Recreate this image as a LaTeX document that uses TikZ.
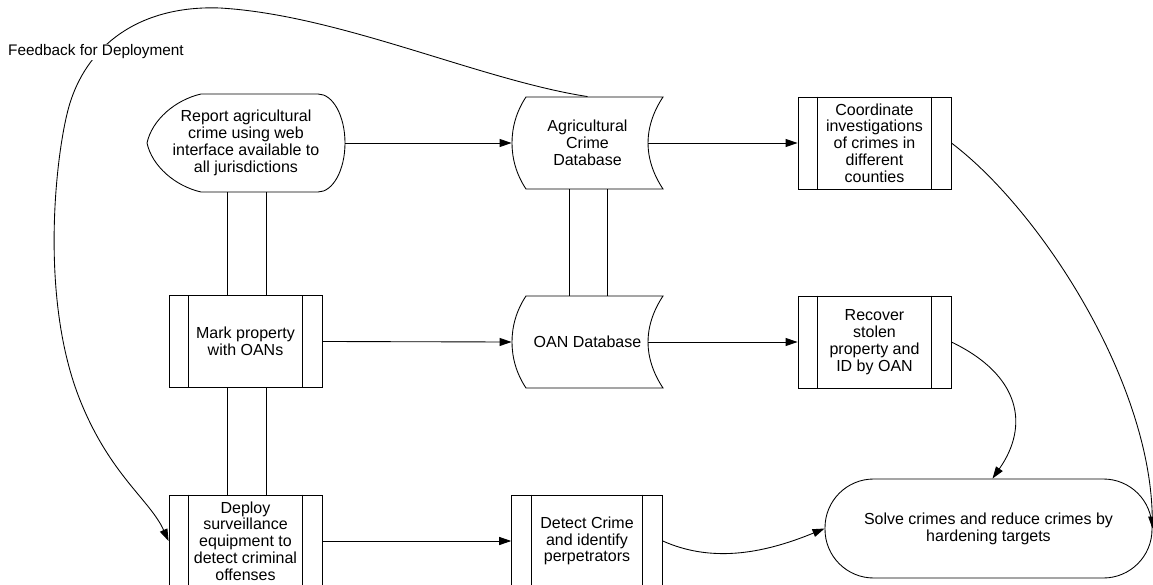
\documentclass[tikz,border=0pt]{standalone}
\usepackage{fontspec}
\setmainfont{Liberation Sans}
\usetikzlibrary{arrows.meta,calc}
\begin{document}
\begin{tikzpicture}[x=0.75pt,y=-0.75pt,
  line width=0.65pt,
  every node/.style={font=\fontsize{12}{12.6}\selectfont, align=center, inner sep=1pt},
  predef/.style={draw, rectangle, minimum width=114.75pt, minimum height=69pt},
  holder/.style={rectangle, minimum width=#1, minimum height=69pt},
  arr/.style={-{Triangle[length=9pt,width=6pt]}},
]
\useasboundingbox (0,0) rectangle (1153,585);

% Display shape (report)
\node[rectangle, minimum width=148.5pt, minimum height=73.5pt] (report) at (246,143)
  {Report agricultural\\crime using web\\interface available to\\all jurisdictions};
\draw (201,94) -- (318,94) .. controls (333,94) and (345,116) .. (345,143)
  .. controls (345,170) and (333,192) .. (318,192) -- (201,192)
  .. controls (175,186) and (152,166) .. (147,143)
  .. controls (152,120) and (175,100) .. cycle;

% Stored data shapes
\node[holder=113.25pt] (agdb) at (587.5,143) {Agricultural\\Crime\\Database};
\node[holder=113.25pt] (oandb) at (587.5,342) {OAN Database};
\foreach \dy in {0,199}{
\begin{scope}[shift={(0,\dy)}]
\draw (526,97) -- (663,97) .. controls (653,112) and (648,128) .. (648,143)
  .. controls (648,158) and (653,174) .. (663,189) -- (526,189)
  .. controls (516,174) and (512,158) .. (512,143)
  .. controls (512,128) and (516,112) .. cycle;
\end{scope}}

% Predefined process boxes
\node[predef] (coord) at (874.5,143) {Coordinate\\investigations\\of crimes in\\different\\counties};
\node[predef] (recover) at (874.5,342) {Recover\\stolen\\property and\\ID by OAN};
\node[predef] (mark) at (245.5,341.5) {Mark property\\with OANs};
\node[predef] (deploy) at (245.5,541) {Deploy\\surveillance\\equipment to\\detect criminal\\offenses};
\node[predef, minimum width=113pt] (detect) at (587,541) {Detect Crime\\and identify\\perpetrators};
\foreach \n in {coord,recover,mark,deploy,detect}{
  \draw ([xshift=15pt]\n.north west) -- ([xshift=15pt]\n.south west);
  \draw ([xshift=-15pt]\n.north east) -- ([xshift=-15pt]\n.south east);
}

% Terminal
\node[draw, rounded corners=36.5pt, minimum width=245.25pt, minimum height=74.25pt] (solve)
  at (988.5,528.5) {Solve crimes and reduce crimes by\\hardening targets};

% Straight connectors
\draw[arr] (report.east) -- (agdb.west);
\draw[arr] ($(agdb.east)+(-15,0)$) -- (coord.west);
\draw[arr] (mark.east) -- (oandb.west);
\draw[arr] ($(oandb.east)+(-15,0)$) -- (recover.west);
\draw[arr] (deploy.east) -- (detect.west);

% Double vertical lines
\draw ($(report.south)+(-19,0)$) -- ($(report.south |- mark.north)+(-19,0)$);
\draw ($(report.south)+(20,0)$) -- ($(report.south |- mark.north)+(20,0)$);
\draw ($(mark.south)+(-18.5,0)$) -- ($(mark.south |- deploy.north)+(-18.5,0)$);
\draw ($(mark.south)+(20.5,0)$) -- ($(mark.south |- deploy.north)+(20.5,0)$);
\draw ($(agdb.south)+(-18.5,0)$) -- ($(agdb.south |- oandb.north)+(-18.5,0)$);
\draw ($(agdb.south)+(19.5,0)$) -- ($(agdb.south |- oandb.north)+(19.5,0)$);

% Curved connectors
\draw[arr] (detect.east) .. controls (710,562) and (760,555) .. (solve.west);
\draw[arr] (recover.east) .. controls (1020,375) and (1030,425) .. ($(solve.north)+(4,0)$);
\draw[arr] (coord.east) .. controls (1040,210) and (1150,380) .. (solve.east);

% Feedback
\draw[arr] (agdb.north) .. controls (480,80) and (340,15) .. (220,8)
  .. controls (140,5) and (85,45) .. (68,110)
  .. controls (55,160) and (40,300) .. (80,400)
  .. controls (110,475) and (150,500) .. (deploy.west);
\node[fill=white, inner sep=1pt, font=\fontsize{11.5}{12}\selectfont] (fb) at (96,52) {Feedback for Deployment};
\end{tikzpicture}
\end{document}
